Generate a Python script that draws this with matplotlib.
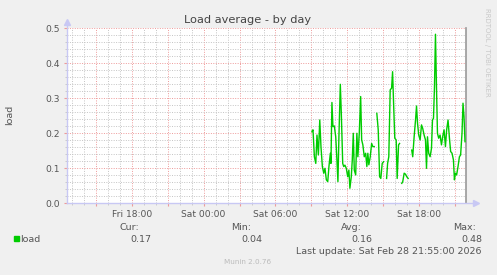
import matplotlib
matplotlib.use('Agg')
import matplotlib.pyplot as plt
import matplotlib.dates as mdates
from matplotlib.ticker import MultipleLocator, FuncFormatter
from matplotlib.patches import Rectangle
import numpy as np
import pandas as pd

# data read off the munin "load" day graph (Sat 2026-02-28), None = no sample
DAY = "2026-02-28"
sample_times = [
    "09:03", "09:08", "09:15", "09:22", "09:28", "09:35", "09:42", "09:48", "09:55",
    "10:02", "10:08", "10:15", "10:22", "10:28", "10:35", "10:38", "10:43", "10:48", "10:55",
    "11:02", "11:08", "11:13", "11:18", "11:25", "11:30", "11:37", "11:42", "11:48", "11:55",
    "12:02", "12:08", "12:13", "12:20", "12:25", "12:30", "12:35", "12:42", "12:48", "12:53",
    "13:00", "13:07", "13:12", "13:18", "13:25", "13:32", "13:38", "13:43", "13:48", "13:55",
    "14:02", "14:08", "14:15", "14:21", "14:28", "14:35", "14:42", "14:48", "14:55",
    "15:02", "15:10", "15:17", "15:22", "15:28", "15:35", "15:42", "15:47", "15:52", "15:58",
    "16:05", "16:10", "16:17", "16:22", "16:28", "16:33", "16:38", "16:45", "16:52", "16:58",
    "17:05", "17:14", "17:23", "17:28", "17:35", "17:42", "17:47", "17:52", "17:58",
    "18:05", "18:12", "18:18", "18:25", "18:32", "18:37", "18:42", "18:48", "18:55",
    "19:02", "19:07", "19:12", "19:17", "19:22", "19:27", "19:32", "19:38", "19:45", "19:52", "19:58",
    "20:05", "20:12", "20:18", "20:25", "20:32", "20:38", "20:45", "20:52", "20:57",
    "21:02", "21:08", "21:15", "21:22", "21:28", "21:35", "21:40", "21:45", "21:50",
]
load_values = [
    0.205, 0.210, 0.133, 0.114, 0.195, 0.138, 0.238, 0.162, 0.105,
    0.086, 0.100, 0.067, 0.062, 0.105, 0.143, 0.114, 0.288, 0.219, 0.221,
    0.190, 0.124, 0.062, 0.190, 0.340, 0.257, 0.114, 0.105, 0.109, 0.100,
    0.076, 0.095, 0.043, 0.076, 0.124, 0.200, 0.095, 0.081, 0.200, 0.133,
    0.200, 0.305, 0.181, 0.167, 0.133, 0.143, 0.105, 0.143, 0.110, 0.133,
    0.171, 0.162, 0.162, None, 0.257, 0.210, 0.076, 0.071, 0.114,
    0.119, None, 0.071, 0.114, 0.133, 0.324, 0.329, 0.376, 0.286, 0.186,
    0.181, 0.071, 0.167, 0.171, None, 0.057, 0.062, 0.086, 0.083, 0.076,
    0.071, None, 0.152, 0.133, 0.190, 0.238, 0.278, 0.229, 0.195,
    0.181, 0.224, 0.214, 0.195, 0.181, 0.100, 0.190, 0.143, 0.133,
    0.157, 0.238, 0.243, 0.333, 0.483, 0.333, 0.200, 0.186, 0.195, 0.167, 0.190,
    0.210, 0.162, 0.210, 0.238, 0.186, 0.148, 0.143, 0.124, 0.067,
    0.086, 0.081, 0.105, 0.133, 0.138, 0.200, 0.286, 0.248, 0.176,
]
view_start = "2026-02-27 12:35"
view_end = "2026-02-28 21:55"

stats_labels = ["Cur:", "Min:", "Avg:", "Max:"]
stats_values = ["0.17", "0.04", "0.16", "0.48"]
last_update = "Last update: Sat Feb 28 21:55:00 2026"

W, H = 497, 275
BG = "#F0F0F0"
TXT = "#555555"
AXIS_BLUE = "#C8C8F4"


def px(x, y):
    return x / W, 1 - y / H


fig = plt.figure(figsize=(W / 100, H / 100), dpi=100, facecolor=BG)
ax = fig.add_axes([67 / W, 1 - 203.3 / H, 399 / W, 175 / H])
ax.set_facecolor("white")

t = pd.to_datetime([f"{DAY} {s}" for s in sample_times])
v = np.array([np.nan if x is None else x for x in load_values], dtype=float)
ax.plot(t, v, color="#00CC00", lw=1.0, zorder=5)

ax.set_xlim(pd.Timestamp(view_start), pd.Timestamp(view_end))
ax.set_ylim(0, 0.5)

# grid: grey hourly / 0.02, red every 3h / 0.1
ax.xaxis.set_major_locator(mdates.HourLocator(byhour=range(0, 24, 3)))
ax.xaxis.set_minor_locator(mdates.HourLocator())
ax.yaxis.set_major_locator(MultipleLocator(0.1))
ax.yaxis.set_minor_locator(MultipleLocator(0.02))


def fmt_time(x, pos):
    d = mdates.num2date(x)
    return d.strftime("%a %H:%M") if d.hour % 6 == 0 else ""


ax.xaxis.set_major_formatter(FuncFormatter(fmt_time))
ax.yaxis.set_major_formatter(FuncFormatter(lambda y, p: f"{y:.1f}"))

ax.grid(which="minor", color="#C4C4C4", lw=0.7, linestyle=(0, (1, 1.5)))
ax.grid(which="major", color="#EE9A9A", lw=0.7, linestyle=(0, (1, 1.5)))
ax.set_axisbelow(True)

ax.tick_params(which="major", length=2, color="#EE9A9A", labelsize=6.6,
               labelcolor=TXT, pad=3)
ax.tick_params(which="minor", length=1.5, color="#C4C4C4")

for s in ("top", "left", "bottom"):
    ax.spines[s].set_visible(False)
ax.spines["right"].set_color("#999999")
ax.spines["right"].set_linewidth(1.2)

# rrdtool style axis lines with arrow heads
ax.plot([0, 0], [0, 1.035], transform=ax.transAxes, color=AXIS_BLUE, lw=1.0,
        clip_on=False, zorder=6)
ax.plot([0, 1.025], [0, 0], transform=ax.transAxes, color=AXIS_BLUE, lw=1.0,
        clip_on=False, zorder=6)
ax.plot(0, 1.035, marker="^", ms=4, color=AXIS_BLUE, transform=ax.transAxes,
        clip_on=False, zorder=6)
ax.plot(1.025, 0, marker=">", ms=4, color=AXIS_BLUE, transform=ax.transAxes,
        clip_on=False, zorder=6)

fig.text(*px(248, 20), "Load average - by day", ha="center", va="center",
         fontsize=8.2, color="#444444")
fig.text(*px(10, 115), "load", ha="center", va="center", rotation=90,
         fontsize=6.8, color=TXT)
fig.text(*px(487, 52), "RRDTOOL / TOBI OETIKER", ha="center", va="center",
         rotation=270, fontsize=5.0, color="#C8C8C8")

# legend block
fig.patches.append(Rectangle(px(14, 241), 5 / W, 5 / H, transform=fig.transFigure,
                             color="#00CC00"))
fig.text(*px(20, 239), "load", ha="left", va="center", fontsize=6.8, color=TXT)
label_right = [139, 251, 362, 476]
value_right = [151, 262, 372, 482]
for lab, val, lx, vx in zip(stats_labels, stats_values, label_right, value_right):
    fig.text(*px(lx, 228), lab, ha="right", va="center", fontsize=6.8, color=TXT)
    fig.text(*px(vx, 239), val, ha="right", va="center", fontsize=6.8, color=TXT)
fig.text(*px(482, 251), last_update, ha="right", va="center", fontsize=6.8, color=TXT)
fig.text(*px(248, 262), "Munin 2.0.76", ha="center", va="center", fontsize=5.2,
         color="#BBBBBB")

fig.savefig("out.png", dpi=100, facecolor=BG)
